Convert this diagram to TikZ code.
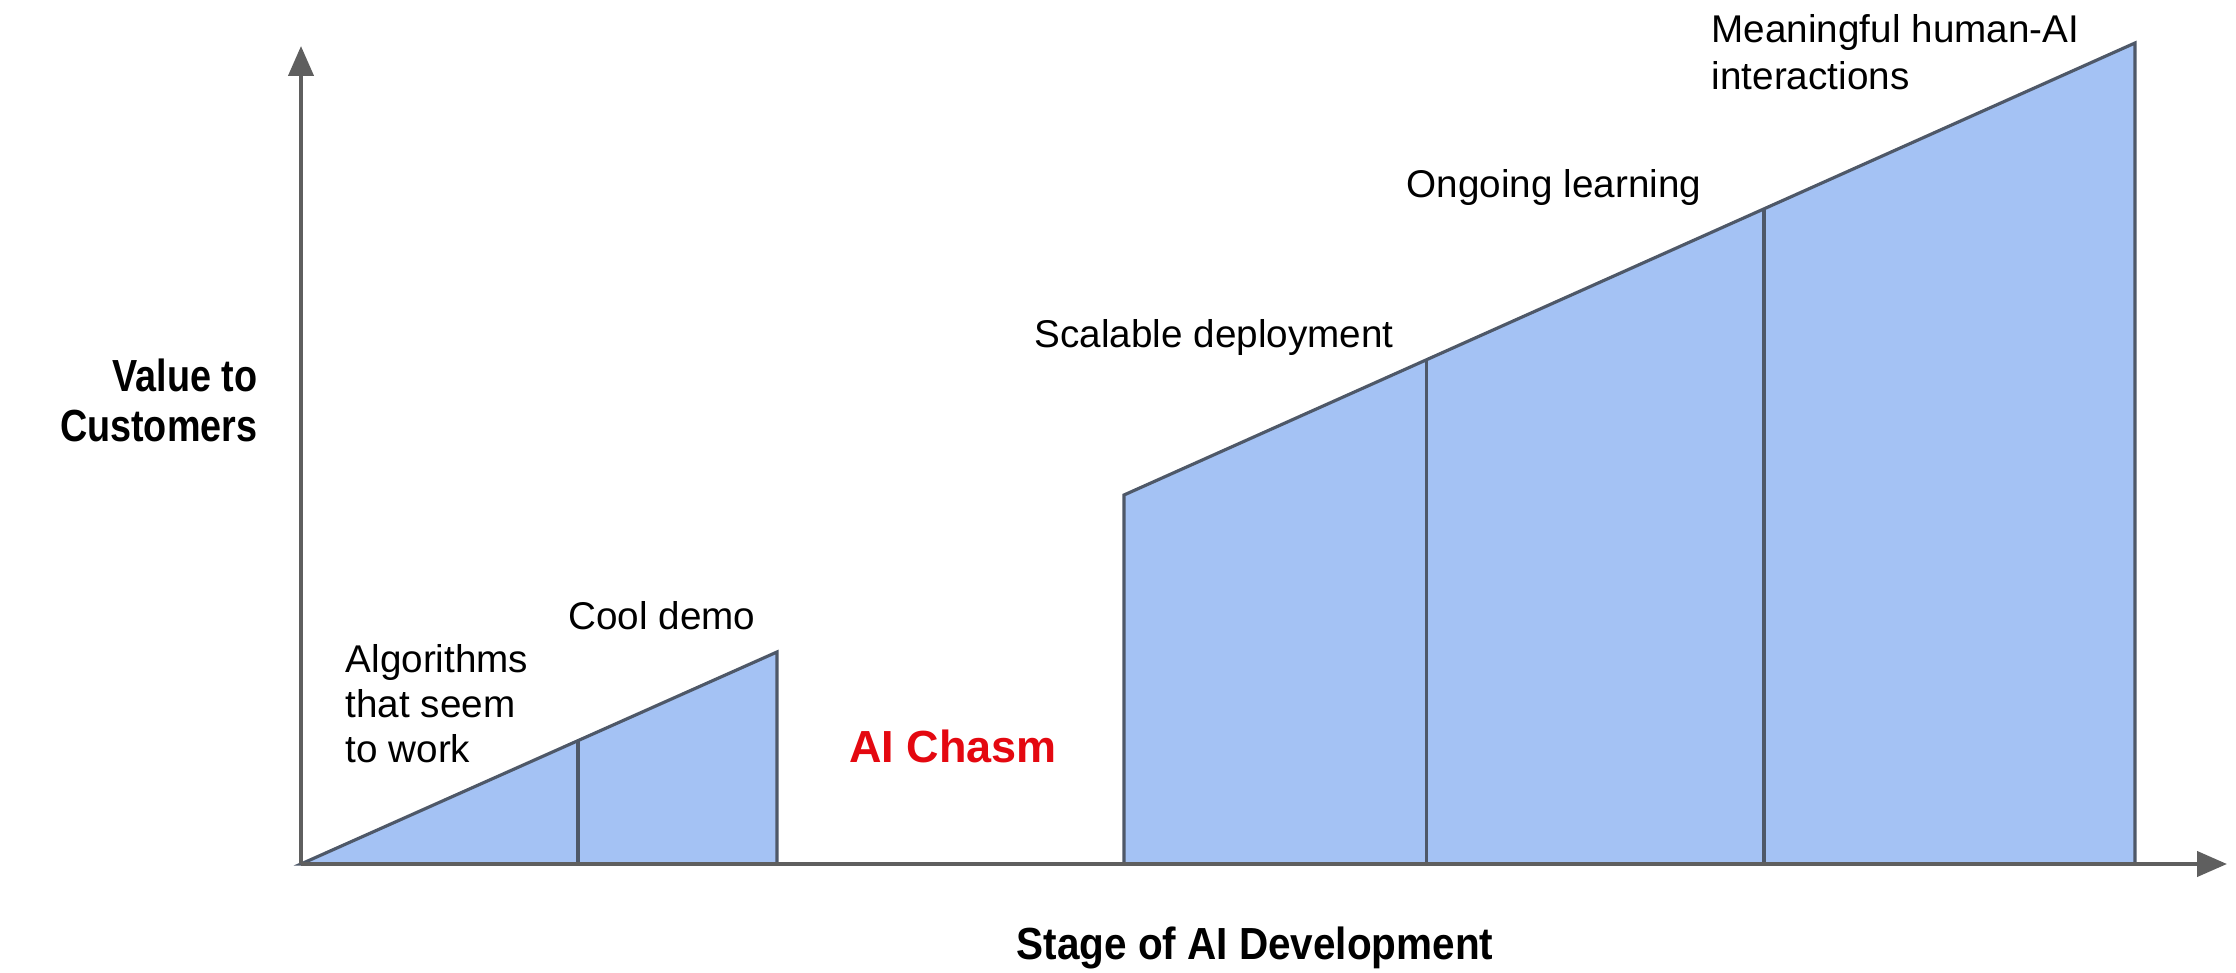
\documentclass[tikz,border=0pt]{standalone}
\usepackage{fontspec}
\setmainfont{Liberation Sans}
\usepackage{tikz}
\usetikzlibrary{arrows.meta,calc}
\definecolor{stagefill}{RGB}{164,194,244}
\definecolor{stageedge}{RGB}{78,88,104}
\definecolor{axisgray}{RGB}{95,95,95}
\definecolor{chasmred}{RGB}{228,8,16}

\begin{document}
\begin{tikzpicture}[
  axis/.style={draw=axisgray, line width=1.2pt, -{Triangle[length=0.3cm,width=0.25cm]}},
  stage/.style={fill=stagefill, draw=stageedge, line width=0.9pt, line join=miter},
  divider/.style={draw=stageedge, line width=0.9pt},
  lbl/.style={inner sep=0pt, font=\fontsize{11}{12.8}\selectfont},
  title/.style={inner sep=0pt, font=\fontsize{12.8}{14.2}\selectfont\bfseries}] %px/100 of the picture
\useasboundingbox (0,0) rectangle (22.36,9.72);

\coordinate (O) at (3.01,1.08);
\coordinate (ytip) at (3.01,9.26);
\coordinate (xtip) at (22.27,1.08);

% small triangle
\coordinate (demotop) at (7.77,3.20);
\filldraw[stage] (O) -- (demotop) -- (demotop |- O) -- cycle;
\coordinate (algotop) at ($(O)!0.582!(demotop)$);
\draw[divider] (algotop) -- (algotop |- O);

% big stages
\coordinate (deploylow) at (11.24,4.77);
\coordinate (meaningtop) at (21.35,9.29);
\filldraw[stage] (deploylow |- O) -- (deploylow) -- (meaningtop) -- (meaningtop |- O) -- cycle;
\foreach \t/\n in {0.299/deploytop,0.633/learntop} {
  \coordinate (\n) at ($(deploylow)!\t!(meaningtop)$);
  \draw[divider] (\n) -- (\n |- O);
}

\draw[axis] (O) -- (ytip);
\draw[axis] (O) -- (xtip);

\node[title, align=right, anchor=east, xscale=0.84, transform shape] (yname) at (2.58,5.72) {Value to\\Customers};
\node[title, xscale=0.9, transform shape] (xname) at (12.55,0.24) {Stage of AI Development};
\node[title, text=chasmred] (chasm) at (9.53,2.26) {AI Chasm};

\node[lbl, align=left, anchor=west] (algo) at (3.45,2.68) {Algorithms\\that seem\\to work};
\node[lbl] (demo) at (6.62,3.56) {Cool demo};
\node[lbl] (deploy) at (12.14,6.34) {Scalable deployment};
\node[lbl] (learn) at (15.54,7.84) {Ongoing learning};
\node[lbl, align=left, anchor=west] (meaning) at (17.11,9.20) {Meaningful human-AI\\[0.5pt]interactions};
\end{tikzpicture}
\end{document}
